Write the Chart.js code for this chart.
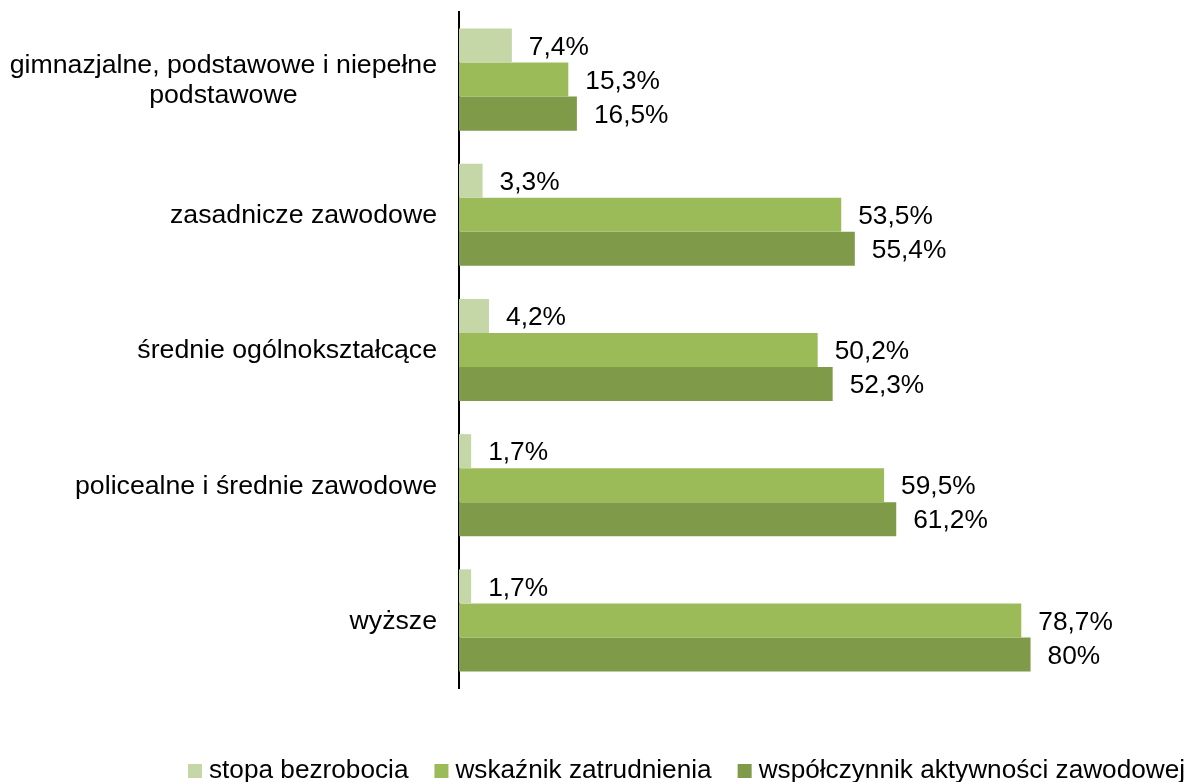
<!DOCTYPE html>
<html>
<head>
<meta charset="utf-8">
<script src="https://cdn.jsdelivr.net/npm/chart.js@4/dist/chart.umd.min.js"></script>
<style>
  html, body { margin: 0; padding: 0; background: #fff; }
  #wrap { width: 1192px; height: 782px; }
</style>
</head>
<body>
<div id="wrap"><canvas id="chart" width="1192" height="782"></canvas></div>
<script>
// dane z wykresu
const categories = [
    ['gimnazjalne, podstawowe i niepełne', 'podstawowe'],
    'zasadnicze zawodowe',
    'średnie ogólnokształcące',
    'policealne i średnie zawodowe',
    'wyższe'
];
const seriesNames = ['stopa bezrobocia', 'wskaźnik zatrudnienia', 'współczynnik aktywności zawodowej'];
const stopaBezrobocia = [7.4, 3.3, 4.2, 1.7, 1.7];
const wskaznikZatrudnienia = [15.3, 53.5, 50.2, 59.5, 78.7];
const wspolczynnikAktywnosci = [16.5, 55.4, 52.3, 61.2, 80];
const seriesColors = ['#C5D6A7', '#9BBB59', '#7F9A48'];

const FONT = '"Liberation Sans", Arial, sans-serif';

const fmt = v => String(v).replace('.', ',') + '%';

// Etykiety kategorii (wyśrodkowane wiersze, wyrównane do prawej)
const categoryLabels = {
    id: 'categoryLabels',
    afterDraw(chart) {
        const ctx = chart.ctx;
        const y = chart.scales.y;
        ctx.save();
        ctx.font = '26.7px ' + FONT;
        ctx.fillStyle = '#000';
        ctx.textBaseline = 'middle';
        ctx.textAlign = 'center';
        categories.forEach((lbl, i) => {
            const lines = Array.isArray(lbl) ? lbl : [lbl];
            const maxW = Math.max(...lines.map(l => ctx.measureText(l).width));
            const cx = chart.chartArea.left - 22 - maxW / 2;
            const cy = y.getPixelForValue(i);
            const lh = 30;
            lines.forEach((l, k) => {
                ctx.fillText(l, cx, cy + (k - (lines.length - 1) / 2) * lh + 1);
            });
        });
        ctx.restore();
    }
};

// Etykiety wartości przy słupkach
const valueLabels = {
    id: 'valueLabels',
    afterDatasetsDraw(chart) {
        const ctx = chart.ctx;
        ctx.save();
        ctx.font = '26.3px ' + FONT;
        ctx.fillStyle = '#000';
        ctx.textBaseline = 'middle';
        ctx.textAlign = 'left';
        chart.data.datasets.forEach((ds, di) => {
            chart.getDatasetMeta(di).data.forEach((bar, i) => {
                ctx.fillText(fmt(ds.data[i]), bar.x + 17, bar.y + 2);
            });
        });
        ctx.restore();
    }
};

// Legenda na dole
const bottomLegend = {
    id: 'bottomLegend',
    afterDraw(chart) {
        const ctx = chart.ctx;
        ctx.save();
        ctx.font = '26.2px ' + FONT;
        ctx.textBaseline = 'middle';
        ctx.textAlign = 'left';
        let x = 188;
        const cy = 771;
        chart.data.datasets.forEach(ds => {
            ctx.fillStyle = ds.backgroundColor;
            ctx.fillRect(x, cy - 7, 14, 14);
            x += 14 + 7;
            ctx.fillStyle = '#000';
            ctx.fillText(ds.label, x, cy);
            x += ctx.measureText(ds.label).width + 26;
        });
        ctx.restore();
    }
};

const datasets = [stopaBezrobocia, wskaznikZatrudnienia, wspolczynnikAktywnosci].map((d, i) => ({
    label: seriesNames[i],
    data: d,
    backgroundColor: seriesColors[i],
    borderWidth: 0,
    categoryPercentage: 0.755,
    barPercentage: 1.0
}));

new Chart(document.getElementById('chart'), {
    type: 'bar',
    data: { labels: categories, datasets: datasets },
    options: {
        indexAxis: 'y',
        responsive: false,
        animation: false,
        layout: { padding: { top: 12, bottom: 94, right: 90, left: 0 } },
        plugins: {
            legend: { display: false },
            tooltip: { enabled: false }
        },
        scales: {
            x: {
                display: false,
                min: 0,
                max: 90
            },
            y: {
                display: true,
                grid: { display: false, drawTicks: false },
                ticks: { display: false },
                border: { display: true, color: '#000', width: 2 },
                afterFit: s => { s.width = 459; }
            }
        }
    },
    plugins: [categoryLabels, valueLabels, bottomLegend]
});
</script>
</body>
</html>
